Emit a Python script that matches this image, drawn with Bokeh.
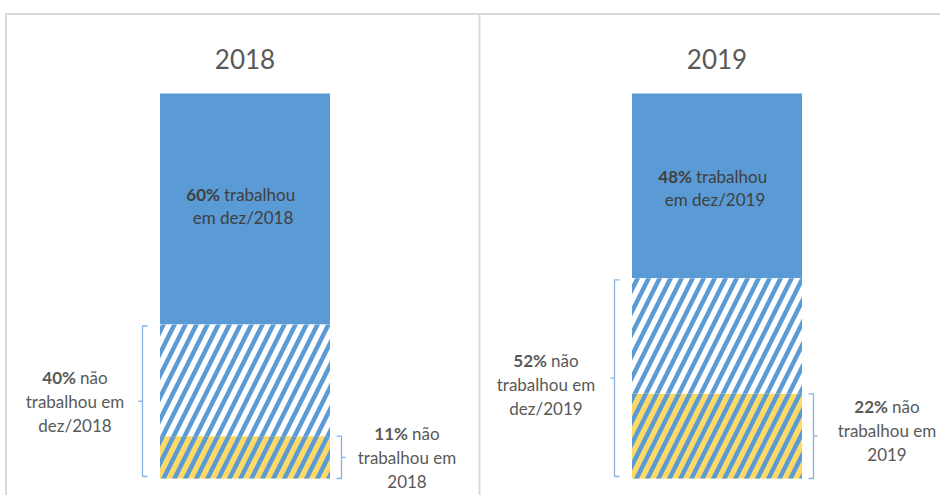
from bokeh.plotting import figure
from bokeh.models import Range1d
from bokeh.embed import file_html
from bokeh.resources import INLINE
from bokeh.core.properties import value

# ---------------- data ----------------
years = ["2018", "2019"]
worked_dec = [60, 48]          # % trabalhou em dez/ano
not_worked_dec = [40, 52]      # % não trabalhou em dez/ano
not_worked_year = [11, 22]     # % não trabalhou no ano

# ---------------- layout (pixels) ----------------
W, H = 940, 495
BAR_TOP, BAR_BOT = 93, 478
PX = (BAR_BOT - BAR_TOP) / 100.0
bar_cx = [244.5, 716.5]
BAR_W = 170
left_lbl_dx = [-170, -171]     # label centre relative to bar centre
right_lbl_dx = [162, 170]
left_lbl_dy = [0, 6]
right_lbl_dy = [0, -6]
inbar_dy = [-3, 2.5]

BLUE = "#5B9BD5"
YELLOW = "#FFD966"
BRACKET = "#86B3E0"
TXT = "#595959"
TXT_IN = "#404040"
FONT = value("Lato")
FS = "17px"
HATCH_SCALE = 22
HATCH_W = 4.5


def vy(py):
    return (BAR_BOT - py) / PX


p = figure(width=W, height=H, x_range=Range1d(0, W), y_range=Range1d(vy(H), vy(0)),
           x_axis_type=None, y_axis_type=None, output_backend="svg",
           toolbar_location=None, min_border=0)
p.grid.visible = False
p.outline_line_color = None
p.background_fill_color = "white"
p.border_fill_color = "white"

# frame lines
p.segment(x0=[5, 5.5, 479], y0=[vy(13.5)] * 3, x1=[W, 5.5, 479], y1=[vy(13.5), vy(H + 5), vy(H + 5)],
          line_color="#D9D9D9", line_width=2)

# bars
p.vbar(x=bar_cx, width=BAR_W, bottom=not_worked_dec, top=[a + b for a, b in zip(not_worked_dec, worked_dec)],
       fill_color=BLUE, line_color=None)
p.vbar(x=bar_cx, width=BAR_W, bottom=not_worked_year, top=not_worked_dec,
       fill_color="white", line_color=None, hatch_pattern="/", hatch_color=BLUE,
       hatch_scale=HATCH_SCALE, hatch_weight=HATCH_W)
p.vbar(x=bar_cx, width=BAR_W, bottom=[0] * len(years), top=not_worked_year,
       fill_color=YELLOW, line_color=None, hatch_pattern="/", hatch_color=BLUE,
       hatch_scale=HATCH_SCALE, hatch_weight=HATCH_W)

# brackets
bx, by = [], []
for i in range(len(years)):
    xl = bar_cx[i] - BAR_W / 2 - 17.5
    top, bot = not_worked_dec[i] - 1.5 / PX, 2 / PX
    bx.append([xl + 5, xl, xl, xl + 5]); by.append([top, top, bot, bot])
    mid = (top + bot) / 2
    bx.append([xl, xl - 4]); by.append([mid, mid])
    xr = bar_cx[i] + BAR_W / 2 + 11.5
    top, bot = not_worked_year[i], 0
    bx.append([xr - 5, xr, xr, xr - 5]); by.append([top, top, bot, bot])
    mid = (top + bot) / 2
    bx.append([xr, xr + 4]); by.append([mid, mid])
p.multi_line(xs=bx, ys=by, line_color=BRACKET, line_width=1.3)


def txt(x, y, s, color, align="center", xo=0, yo=0, bold=False, size=FS):
    p.text(x=[x], y=[y], text=[s], text_font=FONT, text_font_size=size,
           text_color=color, text_align=align, text_baseline="middle",
           x_offset=xo, y_offset=yo, text_font_style="bold" if bold else "normal")


def mixed(x, y, bold, rest, split, yo, color):
    txt(x, y, bold, color, align="right", xo=split, yo=yo, bold=True)
    txt(x, y, rest, color, align="left", xo=split + 4, yo=yo)


for i, yr in enumerate(years):
    cx = bar_cx[i]
    # title
    p.text(x=[cx], y=[vy(58)], text=[yr], text_font=FONT, text_font_size="26px",
           text_color=TXT, text_align="center", text_baseline="alphabetic")
    # in-bar label
    ymid = (not_worked_dec[i] + 100) / 2
    mixed(cx - 2, ymid, f"{worked_dec[i]}%", "trabalhou", -23, -11.5 + inbar_dy[i], TXT_IN)
    txt(cx - 2, ymid, f"em dez/{yr}", TXT_IN, yo=11.5 + inbar_dy[i])
    # left label
    lx = cx + left_lbl_dx[i]
    ly = not_worked_dec[i] / 2
    dy = left_lbl_dy[i]
    mixed(lx, ly, f"{not_worked_dec[i]}%", "não", 1, -24 + dy, TXT)
    txt(lx, ly, "trabalhou em", TXT, yo=dy)
    txt(lx, ly, f"dez/{yr}", TXT, yo=24 + dy)
    # right label
    rx = cx + right_lbl_dx[i]
    ry = not_worked_year[i] / 2
    dy = right_lbl_dy[i]
    mixed(rx, ry, f"{not_worked_year[i]}%", "não", 1, -24 + dy, TXT)
    txt(rx, ry, "trabalhou em", TXT, yo=dy)
    txt(rx, ry, yr, TXT, yo=24 + dy)

open("out.html", "w").write(file_html(p, INLINE))
